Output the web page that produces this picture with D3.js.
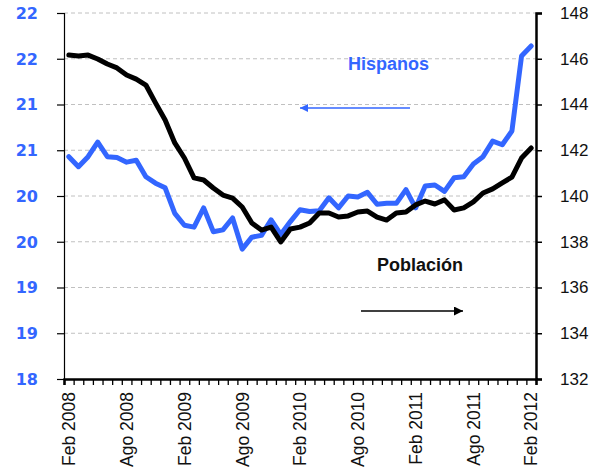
<!DOCTYPE html>
<html>
<head>
<meta charset="utf-8">
<script src="https://cdn.jsdelivr.net/npm/d3@7"></script>
<style>
body { margin: 0; background: #fff; }
svg { display: block; }
.grid line { stroke: #c0c0c0; stroke-dasharray: 4,3; }
</style>
</head>
<body>
<svg id="chart" width="611" height="471"></svg>
<script>
// hispanos (eje izq) y poblacion (eje der), mensual feb 2008 - feb 2012
var hispanos = [20.43, 20.32, 20.43, 20.59, 20.43, 20.42, 20.37, 20.39, 20.21, 20.14,
  20.09, 19.81, 19.68, 19.66, 19.87, 19.61, 19.63, 19.76, 19.42, 19.55,
  19.57, 19.74, 19.58, 19.72, 19.85, 19.83, 19.84, 19.98, 19.87, 20.00,
  19.99, 20.04, 19.91, 19.92, 19.92, 20.07, 19.87, 20.11, 20.12, 20.05,
  20.20, 20.21, 20.35, 20.43, 20.60, 20.56, 20.71, 21.53, 21.64];

var poblacion = [146.16, 146.12, 146.16, 145.99, 145.77, 145.60, 145.29, 145.11, 144.85, 144.07,
  143.32, 142.32, 141.66, 140.79, 140.70, 140.35, 140.04, 139.91, 139.52, 138.82,
  138.51, 138.64, 137.99, 138.56, 138.64, 138.82, 139.26, 139.26, 139.08, 139.13,
  139.30, 139.34, 139.08, 138.95, 139.26, 139.30, 139.61, 139.78, 139.65, 139.83,
  139.39, 139.48, 139.74, 140.13, 140.31, 140.57, 140.83, 141.66, 142.10];

var xLabels = ["Feb 2008", "Ago 2008", "Feb 2009", "Ago 2009", "Feb 2010",
  "Ago 2010", "Feb 2011", "Ago 2011", "Feb 2012"];
var leftTicks = [18, 18.5, 19, 19.5, 20, 20.5, 21, 21.5, 22];
var leftLabels = ["18", "19", "19", "20", "20", "21", "21", "22", "22"];
var rightTicks = [132, 134, 136, 138, 140, 142, 144, 146, 148];

var blue = "#3366ff";
var plotL = 64, plotR = 536, plotT = 13, plotB = 379;

var svg = d3.select("#chart");

var x = d3.scaleLinear().domain([0, hispanos.length]).range([plotL, plotR]);
var yL = d3.scaleLinear().domain([18, 22]).range([plotB, plotT]);
var yR = d3.scaleLinear().domain([132, 148]).range([plotB, plotT]);

// grid
svg.append("g").attr("class", "grid")
  .selectAll("line")
  .data(leftTicks.slice(1))
  .enter().append("line")
  .attr("x1", plotL).attr("x2", plotR)
  .attr("y1", function(d){ return yL(d); })
  .attr("y2", function(d){ return yL(d); });

// left axis
var axL = svg.append("g")
  .attr("transform", "translate(" + plotL + ",0)")
  .call(d3.axisLeft(yL).tickValues(leftTicks).tickSize(7).tickFormat(""));
axL.select(".domain").attr("stroke", "#000").attr("stroke-width", 1.2);
axL.selectAll(".tick line").attr("stroke", "#000").attr("stroke-width", 1.2);

svg.append("g").selectAll("text")
  .data(leftTicks)
  .enter().append("text")
  .attr("x", 38)
  .attr("y", function(d){ return yL(d); })
  .attr("dy", "0.36em")
  .attr("text-anchor", "end")
  .attr("font-family", "DejaVu Sans")
  .attr("font-weight", "bold")
  .attr("font-size", 16)
  .attr("fill", blue)
  .text(function(d, i){ return leftLabels[i]; });

// right axis
var axR = svg.append("g")
  .attr("transform", "translate(" + plotR + ",0)")
  .call(d3.axisRight(yR).tickValues(rightTicks).tickSize(6).tickPadding(18));
axR.select(".domain").attr("stroke", "#000").attr("stroke-width", 2.5);
axR.selectAll(".tick line").attr("stroke", "#000").attr("stroke-width", 1.5);
axR.selectAll(".tick text")
  .attr("font-family", "Liberation Sans, Arial")
  .attr("font-size", 17)
  .attr("fill", "#111");

// bottom axis
var axB = svg.append("g")
  .attr("transform", "translate(0," + plotB + ")")
  .call(d3.axisBottom(x).tickValues(d3.range(hispanos.length + 1)).tickSize(6).tickFormat(""));
axB.select(".domain").attr("stroke", "#000").attr("stroke-width", 2.5);
axB.selectAll(".tick line").attr("stroke", "#000").attr("stroke-width", 1.3);

svg.append("g").selectAll("text")
  .data(xLabels)
  .enter().append("text")
  .attr("transform", function(d, i){
    return "translate(" + x(i * 6 + 0.5) + "," + (plotB + 13) + ") rotate(-90)";
  })
  .attr("dy", "0.36em")
  .attr("text-anchor", "end")
  .attr("font-family", "Liberation Sans, Arial")
  .attr("font-size", 17.5)
  .attr("fill", "#111")
  .text(function(d){ return d; });

// lines
var lineL = d3.line()
  .x(function(d, i){ return x(i + 0.5); })
  .y(function(d){ return yL(d); });
var lineR = d3.line()
  .x(function(d, i){ return x(i + 0.5); })
  .y(function(d){ return yR(d); });

svg.append("path").datum(hispanos)
  .attr("d", lineL)
  .attr("fill", "none")
  .attr("stroke", blue)
  .attr("stroke-width", 5)
  .attr("stroke-linejoin", "round")
  .attr("stroke-linecap", "round");

svg.append("path").datum(poblacion)
  .attr("d", lineR)
  .attr("fill", "none")
  .attr("stroke", "#000")
  .attr("stroke-width", 5)
  .attr("stroke-linejoin", "round")
  .attr("stroke-linecap", "round");

// annotations
var defs = svg.append("defs");
defs.append("marker").attr("id", "arrBlue")
  .attr("viewBox", "0 0 10 10").attr("refX", 10).attr("refY", 5)
  .attr("markerWidth", 10).attr("markerHeight", 8).attr("markerUnits", "userSpaceOnUse")
  .attr("orient", "auto")
  .append("path").attr("d", "M0,0L10,5L0,10Z").attr("fill", blue);
defs.append("marker").attr("id", "arrBlack")
  .attr("viewBox", "0 0 10 10").attr("refX", 10).attr("refY", 5)
  .attr("markerWidth", 11).attr("markerHeight", 9).attr("markerUnits", "userSpaceOnUse")
  .attr("orient", "auto")
  .append("path").attr("d", "M0,0L10,5L0,10Z").attr("fill", "#000");

svg.append("text")
  .attr("x", 348).attr("y", 70)
  .attr("font-family", "Liberation Sans, Arial")
  .attr("font-weight", "bold")
  .attr("font-size", 18)
  .attr("fill", blue)
  .text("Hispanos");

svg.append("line")
  .attr("x1", 410).attr("y1", 108).attr("x2", 300).attr("y2", 108)
  .attr("stroke", blue).attr("stroke-width", 1.5)
  .attr("marker-end", "url(#arrBlue)");

svg.append("text")
  .attr("x", 377).attr("y", 271)
  .attr("font-family", "Liberation Sans, Arial")
  .attr("font-weight", "bold")
  .attr("font-size", 18)
  .attr("fill", "#111")
  .text("Población");

svg.append("line")
  .attr("x1", 361).attr("y1", 311).attr("x2", 463).attr("y2", 311)
  .attr("stroke", "#000").attr("stroke-width", 1.5)
  .attr("marker-end", "url(#arrBlack)");
</script>
</body>
</html>
